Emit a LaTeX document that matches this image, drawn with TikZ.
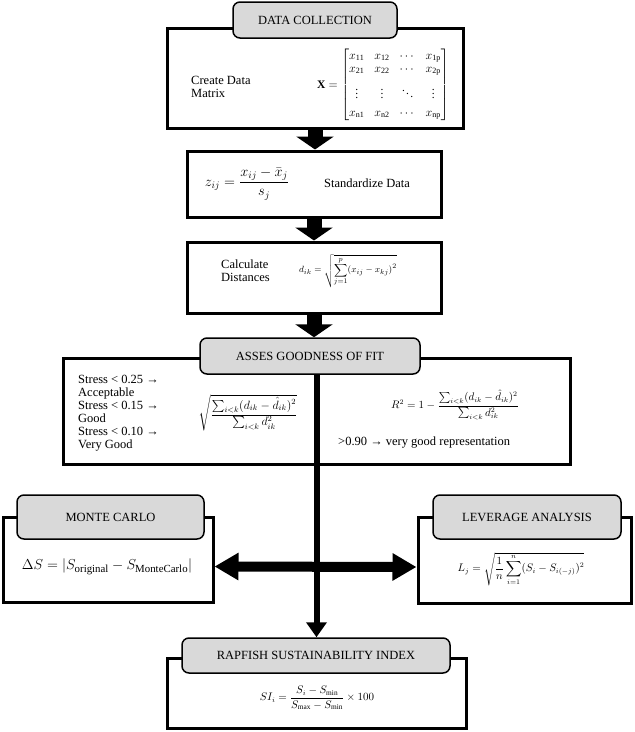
\documentclass[tikz,border=0pt]{standalone}
\usepackage{fontspec}
\setmainfont{Liberation Serif}
\usepackage{amsmath}
\usetikzlibrary{arrows.meta}
\definecolor{titlegray}{HTML}{D9D9D9}
\begin{document}
\begin{tikzpicture}[x=1pt,y=-1pt,
  outerbox/.style={draw, line width=3pt, inner sep=0pt},
  titlebox/.style={draw, line width=1.5pt, rounded corners=7pt, fill=titlegray, inner sep=0pt, font=\fontsize{12.5}{14}\selectfont},
  txt/.style={inner sep=0pt, align=left, font=\fontsize{12.5}{13}\selectfont},
  eq/.style={inner sep=0pt},
  blockarrow/.style={line width=15pt, -{Triangle[width=37pt,length=13pt]}},
]
\useasboundingbox (0,0) rectangle (635,732);

% Data collection
\node[outerbox, minimum width=296pt, minimum height=100pt] (b1) at (315,78) {};
\node[titlebox, minimum width=164pt, minimum height=36pt] (t1) at (315,20) {DATA COLLECTION};
\node[txt, anchor=west] (c1) at (191,86.5) {Create Data\\Matrix};
\node[eq, font=\fontsize{11.5}{13}\selectfont] (m1) at (383,85) {$\mathbf{X}=\begin{bmatrix} x_{\mathrm{11}} & x_{\mathrm{12}} & \cdots & x_{\mathrm{1p}}\\[0pt] x_{\mathrm{21}} & x_{\mathrm{22}} & \cdots & x_{\mathrm{2p}}\\[7pt] \vdots & \vdots & \ddots & \vdots\\[5pt] x_{\mathrm{n1}} & x_{\mathrm{n2}} & \cdots & x_{\mathrm{np}}\end{bmatrix}$};

% Standardize
\node[outerbox, minimum width=254pt, minimum height=66pt] (b2) at (314,184) {};
\node[eq, font=\fontsize{14.5}{16}\selectfont] (e2) at (247,184) {$z_{ij}=\dfrac{x_{ij}-\bar{x}_j}{s_j}$};
\node[txt, anchor=west] (c2) at (324,183) {Standardize Data};

% Distances
\node[outerbox, minimum width=254pt, minimum height=71pt] (b3) at (314,277.5) {};
\node[txt, anchor=west] (c3) at (221,271) {Calculate\\Distances};
\node[eq, font=\fontsize{9.5}{11}\selectfont] (e3) at (348,271) {$d_{ik}=\sqrt{\displaystyle\sum_{j=1}^{p}(x_{ij}-x_{kj})^2}$};

% Goodness of fit
\node[outerbox, minimum width=507pt, minimum height=106pt] (b4) at (316.5,411) {};
\node[titlebox, minimum width=220pt, minimum height=36pt] (t4) at (310,356) {ASSES GOODNESS OF FIT};
\node[txt, anchor=west] (c4) at (78,413) {Stress < 0.25 →\\Acceptable\\Stress < 0.15 →\\Good\\Stress < 0.10 →\\Very Good};
\node[eq, font=\fontsize{11.5}{13}\selectfont] (e4) at (248,413) {$\sqrt{\dfrac{\sum_{i<k}(d_{ik}-\hat{d}_{ik})^2}{\sum_{i<k}d_{ik}^2}}$};
\node[eq, font=\fontsize{10.5}{12}\selectfont] (e5) at (455,405) {$R^2=1-\dfrac{\sum_{i<k}(d_{ik}-\hat{d}_{ik})^2}{\sum_{i<k}d_{ik}^2}$};
\node[txt, anchor=west] (c5) at (338,443) {>0.90 → very good representation};

% Monte Carlo
\node[outerbox, minimum width=210pt, minimum height=85pt] (mc) at (108,559.5) {};
\node[titlebox, minimum width=187pt, minimum height=44pt] (tmc) at (110.5,517) {MONTE CARLO};
\node[eq, font=\fontsize{15.5}{17}\selectfont] (emc) at (107,567) {$\Delta S=|S_{\text{original}}-S_{\text{MonteCarlo}}|$};

% Leverage
\node[outerbox, minimum width=213pt, minimum height=86pt] (lev) at (524.5,560) {};
\node[titlebox, minimum width=188pt, minimum height=44pt] (tlev) at (527,517) {LEVERAGE ANALYSIS};
\node[eq, font=\fontsize{10.5}{12}\selectfont] (elev) at (521,569) {$L_j=\sqrt{\dfrac{1}{n}\displaystyle\sum_{i=1}^{n}(S_i-S_{i(-j)})^2}$};

% Rapfish
\node[outerbox, minimum width=299pt, minimum height=70pt] (b5) at (316.5,693) {};
\node[titlebox, minimum width=268pt, minimum height=35pt] (t5) at (316,655.5) {RAPFISH SUSTAINABILITY INDEX};
\node[eq, font=\fontsize{10.5}{12}\selectfont] (e6) at (317,698) {$SI_i=\dfrac{S_i-S_{\min}}{S_{\max}-S_{\min}}\times 100$};

% connectors
\draw[blockarrow] (b1.south) -- (b1.south |- b2.north);
\draw[blockarrow] (b2.south) -- (b2.south |- b3.north);
\draw[blockarrow] (b3.south) -- (b3.south |- t4.north);
\draw[line width=6pt, -{Triangle[width=20pt,length=15pt]}] (b4.center |- t4.south) -- (b4.center |- t5.north);
\draw[line width=10pt, {Triangle[width=26pt,length=24pt]}-{Triangle[width=26pt,length=24pt]}] ([yshift=-7pt]mc.east) -- ([yshift=-7pt]lev.west);
\end{tikzpicture}
\end{document}
